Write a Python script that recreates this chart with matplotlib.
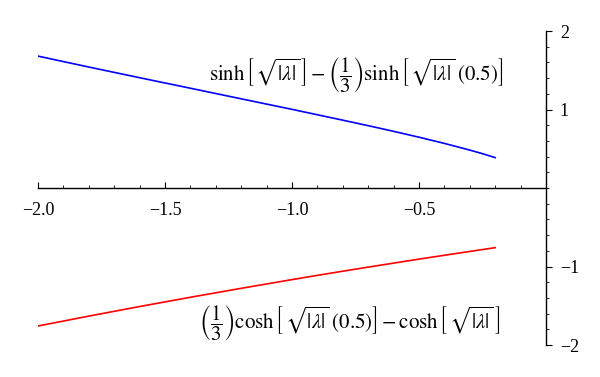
import matplotlib
matplotlib.use("Agg")
import matplotlib.pyplot as plt
from matplotlib.ticker import MultipleLocator, FixedLocator

lam = [-2.0, -1.8, -1.6, -1.4, -1.2, -1.0, -0.9, -0.8, -0.7, -0.6, -0.5, -0.4, -0.3, -0.25, -0.2]
upper = [1.680, 1.541, 1.405, 1.271, 1.136, 1.002, 0.933, 0.864, 0.794, 0.722, 0.647, 0.568, 0.483, 0.437, 0.387]
lower = [-1.758, -1.632, -1.510, -1.392, -1.278, -1.167, -1.113, -1.060, -1.008, -0.957, -0.906, -0.857, -0.808, -0.784, -0.760]
xticks = [-2.0, -1.5, -1.0, -0.5]
xticklabels = ["\u22122.0", "\u22121.5", "\u22121.0", "\u22120.5"]
yticks = [-2, -1, 1, 2]
yticklabels = ["\u22122", "\u22121", "1", "2"]
label_upper = r"$\sinh\left[\,\sqrt{|\lambda|}\,\right]-\left(\dfrac{1}{3}\right)\sinh\left[\,\sqrt{|\lambda|}\;(0.5)\right]$"
label_lower = r"$\left(\dfrac{1}{3}\right)\cosh\left[\,\sqrt{|\lambda|}\;(0.5)\right]-\cosh\left[\,\sqrt{|\lambda|}\,\right]$"

plt.rcParams['font.family'] = ['Liberation Serif', 'DejaVu Serif']
plt.rcParams['mathtext.fontset'] = 'stix'

fig = plt.figure(figsize=(6.0, 3.77), dpi=100)
ax = fig.add_axes([38/600, 1-345/377, (546-38)/600, (345-31)/377])

ax.plot(lam, upper, color=(0, 0, 1), lw=1.2)
ax.plot(lam, lower, color=(1, 0, 0), lw=1.2)

ax.set_xlim(-2.0, 0.0)
ax.set_ylim(-2.0, 2.0)

for s in ['top', 'left']:
    ax.spines[s].set_visible(False)
ax.spines['bottom'].set_position(('data', 0))
ax.spines['right'].set_position(('data', 0))
ax.spines['bottom'].set_linewidth(1.0)
ax.spines['right'].set_linewidth(1.0)

ax.xaxis.set_major_locator(FixedLocator(xticks))
ax.set_xticklabels(xticklabels)
ax.xaxis.set_minor_locator(MultipleLocator(0.1))
ax.tick_params(axis='x', which='major', direction='in', length=4, width=0.8, labelsize=13, pad=10)
ax.tick_params(axis='x', which='minor', direction='in', length=2, width=0.6)

ax.yaxis.tick_right()
ax.yaxis.set_major_locator(FixedLocator(yticks))
ax.set_yticklabels(yticklabels)
ax.yaxis.set_minor_locator(MultipleLocator(0.2))
ax.tick_params(axis='y', which='major', direction='out', length=4, width=0.8, labelsize=13, pad=6)
ax.tick_params(axis='y', which='minor', direction='out', length=2, width=0.6)

ax.text(-0.17, 1.44, label_upper, fontsize=15, ha='right', va='center')
ax.text(-0.18, -1.72, label_lower, fontsize=15, ha='right', va='center')

fig.savefig("out.png", dpi=100)
